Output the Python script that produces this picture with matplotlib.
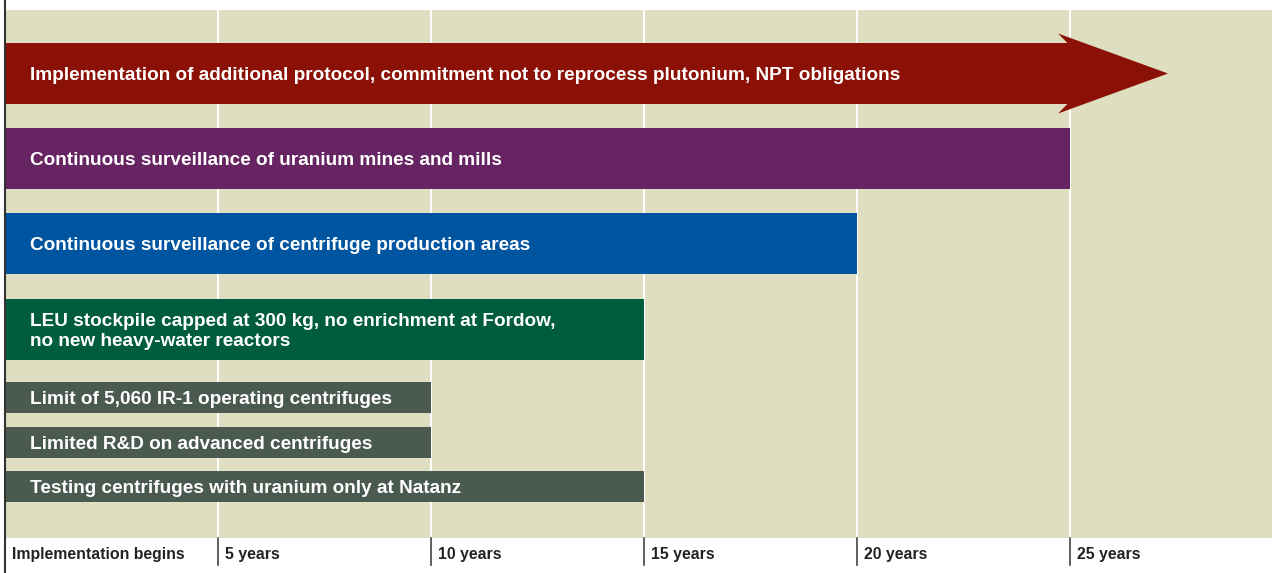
import matplotlib
matplotlib.use("Agg")
import matplotlib.pyplot as plt
from matplotlib.lines import Line2D
from matplotlib.transforms import offset_copy

# ---- data ----
labels = [
    "Implementation of additional protocol, commitment not to reprocess plutonium, NPT obligations",
    "Continuous surveillance of uranium mines and mills",
    "Continuous surveillance of centrifuge production areas",
    "LEU stockpile capped at 300 kg, no enrichment at Fordow,\nno new heavy-water reactors",
    "Limit of 5,060 IR-1 operating centrifuges",
    "Limited R&D on advanced centrifuges",
    "Testing centrifuges with uranium only at Natanz",
]
end_years = [27.3, 25, 20, 15, 10, 10, 15]   # first one is open-ended (arrow)
tick_years = [0, 5, 10, 15, 20, 25]
tick_labels = ["Implementation begins", "5 years", "10 years", "15 years", "20 years", "25 years"]

# ---- style / layout ----
colors = ["#8b1005", "#662462", "#0055a0", "#005c3f", "#4b5a51", "#4b5a51", "#4b5a51"]
beige = "#e0dec0"
W, H = 1272, 573
px_per_year = 42.6
centers = [63.5, 148.5, 233.5, 319.5, 387.5, 432.5, 476.5]
heights = [61, 61, 61, 61, 31, 31, 31]

plt.rcParams['font.family'] = ['Liberation Sans', 'DejaVu Sans']

fig = plt.figure(figsize=(W / 100, H / 100), dpi=100)
fig.patch.set_facecolor("white")
ax = fig.add_axes([5 / W, 35 / H, (W - 5) / W, 528 / H])
ax.set_facecolor(beige)
ax.set_xlim(0, (W - 5) / px_per_year)
ax.set_ylim(528, 0)
for s in ax.spines.values():
    s.set_visible(False)

# vertical white gridlines
for t in tick_years[1:]:
    ax.axvline(t, color="white", lw=1.4, zorder=1)

# arrow (first row)
c, h = centers[0], heights[0]
tip = end_years[0]
head_len = 2.58
base = tip - head_len
notch = base + 0.22
head_half = 40
xs = [0, notch, base, tip, base, notch, 0]
ys = [c - h / 2, c - h / 2, c - head_half, c, c + head_half, c + h / 2, c + h / 2]
ax.fill(xs, ys, color=colors[0], lw=0, zorder=2)

# bars
ax.barh(centers[1:], end_years[1:], height=heights[1:], left=0,
        color=colors[1:], edgecolor="none", zorder=2)

# bar labels
txt_tr = offset_copy(ax.transData, fig=fig, x=25, y=0, units="dots")
for lab, yc in zip(labels, centers):
    ax.text(0, yc + 2, lab, transform=txt_tr, color="white", fontsize=13.7,
            fontweight="bold", va="center", ha="left", linespacing=1.3, zorder=3)

# bottom ticks and labels
ax.set_xticks([])
ax.set_yticks([])
for t in tick_years[1:]:
    x_fig = (5 + t * px_per_year) / W
    fig.add_artist(Line2D([x_fig, x_fig], [(H - 565) / H, (H - 538) / H],
                          color="#444444", lw=1.2))
fig.add_artist(Line2D([4.5 / W, 4.5 / W], [0, 1], color="#333333", lw=1.5))

lab_tr = offset_copy(ax.get_xaxis_transform(), fig=fig, x=7, y=0, units="dots")
for t, lab in zip(tick_years, tick_labels):
    ax.text(t, -16 / 528, lab, transform=lab_tr, fontsize=11.4, fontweight="bold",
            color="#222222", va="center", ha="left")

fig.savefig("out.png", dpi=100)
